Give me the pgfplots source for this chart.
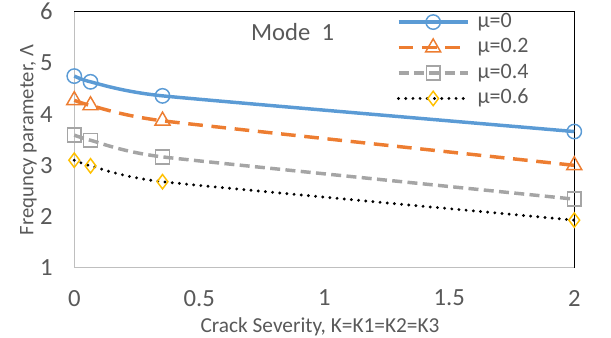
\documentclass[border=0pt]{standalone}
\usepackage{fontspec}
\setmainfont{Carlito}
\usepackage{pgfplots}
\pgfplotsset{compat=1.18}
\definecolor{tgray}{HTML}{595959}
\definecolor{cblue}{HTML}{5B9BD5}
\definecolor{corange}{HTML}{ED7D31}
\definecolor{cgray}{HTML}{A5A5A5}
\definecolor{cyellow}{HTML}{FFC000}
\definecolor{agray}{HTML}{BFBFBF}
\begin{document}
\begin{tikzpicture}
\path[use as bounding box] (0,0) rectangle (458.25pt,-253.5pt);
\begin{axis}[
  at={(55.7pt,-200.8pt)}, anchor=south west,
  scale only axis, width=375pt, height=192pt,
  xmin=0, xmax=2, ymin=1, ymax=6,
  xtick={0,0.5,1,1.5,2}, ytick={1,2,3,4,5,6},
  axis line style={draw=none}, tick style={draw=none},
  clip=false,
  /pgf/number format/assume math mode=true,
  tick label style={font=\fontsize{18.5}{20}\selectfont, text=tgray},
  yticklabel style={anchor=east, inner sep=0pt, xshift=-16pt},
  xticklabel style={anchor=north, inner sep=0pt, yshift=-16.5pt},
  legend style={at={(axis description cs:0.645,1)}, anchor=north west, yshift=-0.5pt,
    draw=none, fill=none, inner sep=0pt, outer sep=0pt, row sep=4.6pt, column sep=6pt,
    font=\fontsize{16.5}{18}\selectfont, text=tgray,
    nodes={inner sep=0pt, text height=11pt, text depth=3.5pt}},
  legend cell align=left,
  legend image code/.code={\draw[mark repeat=2,mark phase=2,#1] plot coordinates {(0pt,0pt) (26pt,0pt) (52pt,0pt)};},
]
\draw[agray, line width=0.9pt] (rel axis cs:0,1) -- (rel axis cs:0,0) -- (rel axis cs:1,0);
\draw[black, line width=1.1pt] (rel axis cs:0,1) -- (rel axis cs:1,1) -- (rel axis cs:1,0);
\addplot[cblue, line width=2.6pt, smooth, tension=0.3, mark=o, mark size=5.4pt,
  mark options={solid, line width=1.1pt, fill=white}]
  coordinates {(0,4.743) (0.065,4.631) (0.353,4.357) (2,3.66)};
\addlegendentry{μ=0}
\addplot[corange, line width=2.6pt, smooth, tension=0.3, dash pattern=on 11pt off 6.5pt,
  mark=triangle, mark size=6.5pt, mark options={solid, line width=1.1pt}]
  coordinates {(0,4.27) (0.065,4.17) (0.353,3.87) (2,3.0)};
\addlegendentry{μ=0.2}
\addplot[cgray, line width=2.6pt, smooth, tension=0.3, dash pattern=on 7.5pt off 4pt,
  mark=square, mark size=5.2pt, mark options={solid, line width=1.1pt}]
  coordinates {(0,3.59) (0.065,3.49) (0.353,3.165) (2,2.34)};
\addlegendentry{μ=0.4}
\addplot[black, line width=2.4pt, smooth, tension=0.3, line cap=round, dash pattern=on 0pt off 5.4pt,
  mark=diamond, mark size=5.4pt, mark options={solid, cyellow, line width=1.1pt}]
  coordinates {(0,3.10) (0.065,2.99) (0.353,2.68) (2,1.93)};
\addlegendentry{μ=0.6}
\end{axis}
\node[anchor=base, text=tgray, font=\fontsize{18.5}{20}\selectfont] at (219.4pt,-30.75pt) {Mode\ \ 1};
\node[anchor=base, text=tgray, font=\fontsize{16}{18}\selectfont] at (240pt,-249.5pt) {Crack Severity, K=K1=K2=K3};
\node[anchor=base, rotate=90, text=tgray, font=\fontsize{15.5}{17}\selectfont] at (25pt,-105pt) {Frequncy parameter, Λ};
\end{tikzpicture}
\end{document}
